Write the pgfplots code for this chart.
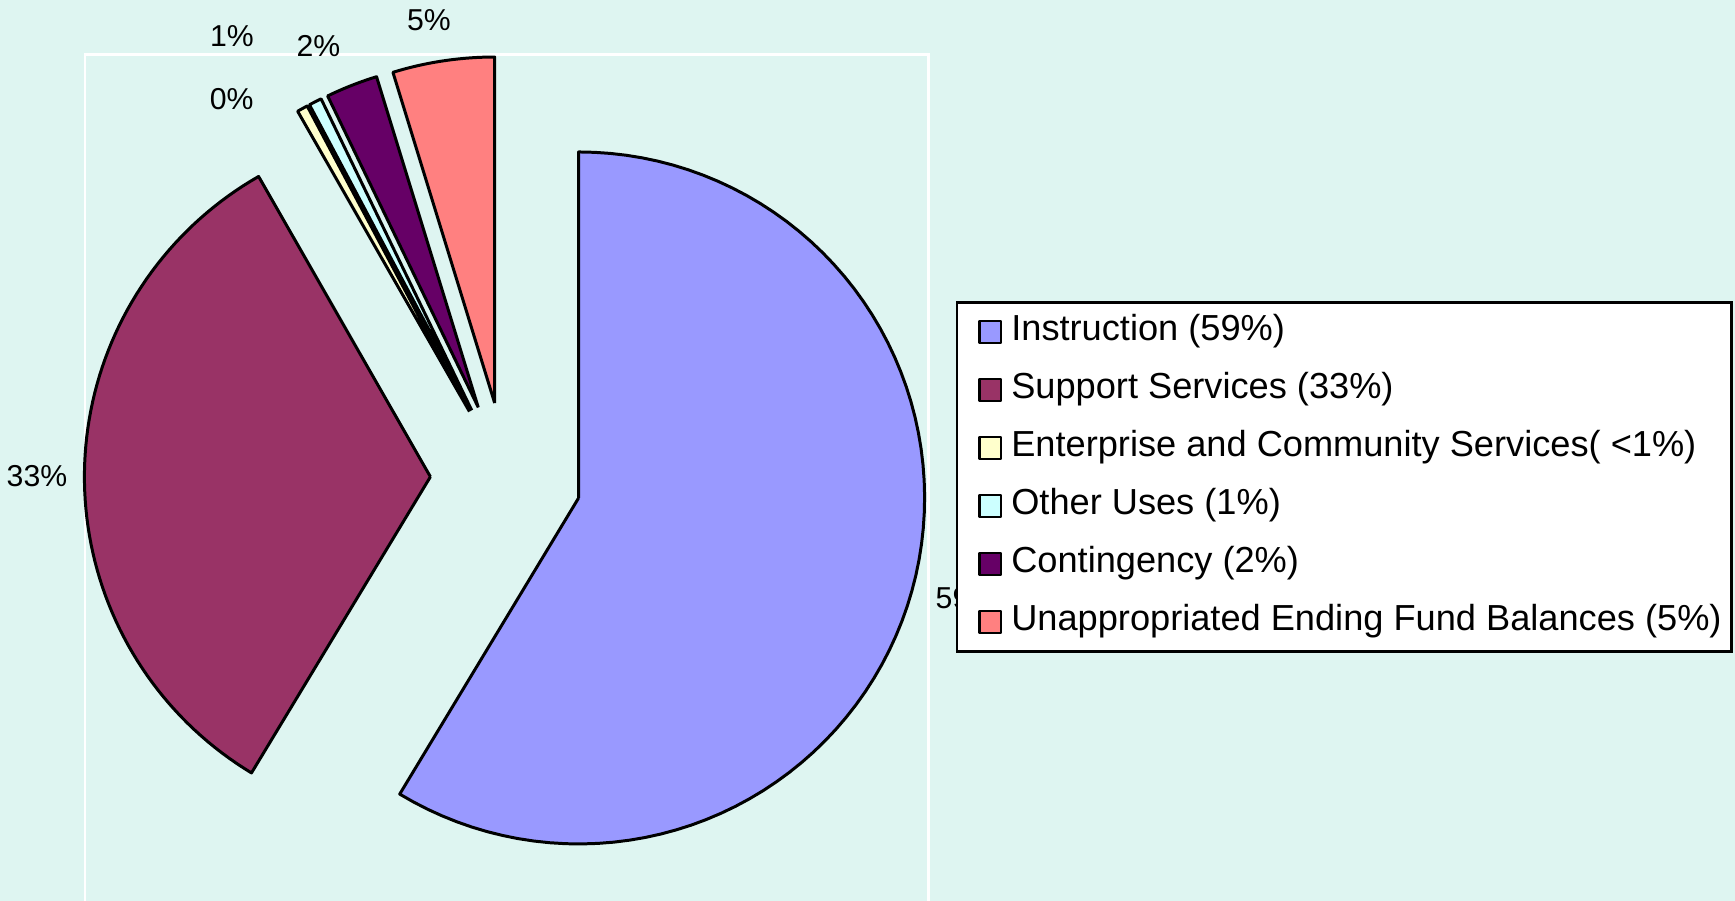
\documentclass[border=0pt]{standalone}
\usepackage{fontspec}
\setmainfont{Liberation Sans}
\usepackage{pgfplots}
\pgfplotsset{compat=1.18}
\definecolor{bgmint}{RGB}{222,245,241}
\definecolor{cInstr}{RGB}{153,153,255}
\definecolor{cSupp}{RGB}{153,51,102}
\definecolor{cEnt}{RGB}{255,255,204}
\definecolor{cOther}{RGB}{204,255,255}
\definecolor{cCont}{RGB}{102,0,102}
\definecolor{cUnap}{RGB}{255,128,128}
% #1 = cumulative share before the slice (%), #2 = share (%), #3 = colour
\newcommand{\slice}[3]{%
\addplot[fill=#3, draw=black, line width=0.85pt, line join=round,
  samples at={-1,0,1,...,80,81}, variable=\k]
 ({505.9 + 75.5*cos(90-3.6*(#1+#2/2)) + 346*cos(90-3.6*(#1+#2*\k/80))*(\k>=0)*(\k<=80)},
  {-477.7 + 75.5*sin(90-3.6*(#1+#2/2)) + 346*sin(90-3.6*(#1+#2*\k/80))*(\k>=0)*(\k<=80)});
}
\newcommand{\lblfont}{\fontsize{8.6}{10}\selectfont}
\begin{document}
\begin{tikzpicture}
\begin{axis}[
  scale only axis, width=173.5mm, height=90.1mm,
  xmin=0, xmax=1735, ymin=-901, ymax=0,
  hide axis, clip=false,
  legend cell align=left,
  legend image code/.code={\path (0pt,0pt); \draw[#1, line width=0.6pt] (3.46pt,-3.1pt) rectangle (9.66pt,3.1pt);},
  legend style={at={(axis cs:956,-301.5)}, anchor=north west, draw=black, line width=0.6pt,
    fill=white, font=\fontsize{10.3}{12}\selectfont, inner xsep=2.5pt, inner ysep=1.4pt,
    row sep=2.5pt, column sep=2.25pt,
    nodes={inner xsep=0.3pt, inner ysep=2pt, text height=7.3pt, text depth=2.7pt}},
]
\addplot[forget plot, fill=bgmint, draw=none] coordinates {(0,0) (1735,0) (1735,-901) (0,-901)};
\draw[white, line width=0.85pt] (axis cs:85,-901) -- (axis cs:85,-55) -- (axis cs:928,-55) -- (axis cs:928,-901);
% shares: Instruction 58.65, Support 33.08, Enterprise 0.5, Other 0.6, Contingency 2.42, Unappropriated 4.75
\slice{0}{58.65}{cInstr}
\addlegendentry{Instruction (59\%)}
\slice{58.65}{33.08}{cSupp}
\addlegendentry{Support Services (33\%)}
\slice{91.73}{0.5}{cEnt}
\addlegendentry{Enterprise and Community Services( <1\%)}
\slice{92.23}{0.6}{cOther}
\addlegendentry{Other Uses (1\%)}
\slice{92.83}{2.42}{cCont}
\addlegendentry{Contingency (2\%)}
\slice{95.25}{4.75}{cUnap}
\addlegendentry{Unappropriated Ending Fund Balances (5\%)}
\node[font=\lblfont] at (axis cs:429,-20) {5\%};
\node[font=\lblfont] at (axis cs:232,-36.3) {1\%};
\node[font=\lblfont] at (axis cs:318.5,-46) {2\%};
\node[font=\lblfont] at (axis cs:231.7,-98.8) {0\%};
\node[font=\lblfont] at (axis cs:37,-476.5) {33\%};
\node[font=\lblfont, anchor=west, inner sep=0pt] at (axis cs:935,-598) {59\%};
\end{axis}
\pgfresetboundingbox
\path (current axis.south west) rectangle (current axis.north east);
\end{tikzpicture}
\end{document}
